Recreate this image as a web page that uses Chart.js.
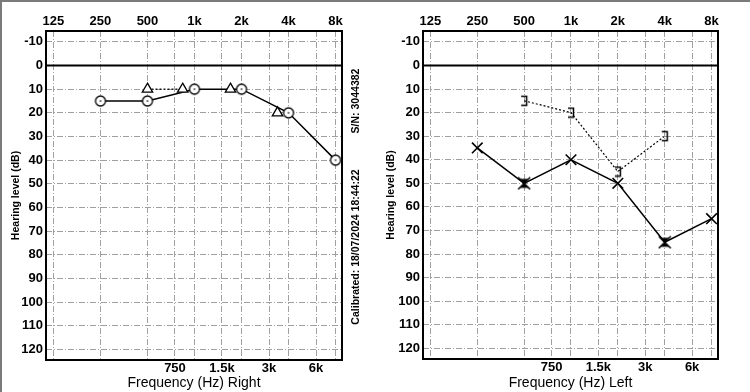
<!DOCTYPE html>
<html>
<head>
<meta charset="utf-8">
<script src="https://cdn.jsdelivr.net/npm/chart.js@4.4.1/dist/chart.umd.min.js"></script>
<style>
html, body { margin: 0; padding: 0; background: #fff; }
#wrap { position: relative; width: 750px; height: 392px; overflow: hidden; }
#kanan, #kiri { position: absolute; top: 0; }
#kanan { left: 0; }
#kiri { left: 375px; }
#bingkai { position: absolute; left: 0; top: 0; width: 750px; height: 392px; box-sizing: border-box;
  border-left: 2px solid #7a7a7a; border-top: 2px solid #7a7a7a; pointer-events: none; }
</style>
</head>
<body>
<div id="wrap">
  <canvas id="kanan" width="375" height="392"></canvas>
  <canvas id="kiri" width="375" height="392"></canvas>
  <div id="bingkai"></div>
</div>
<script>
var frekuensi = [125, 250, 500, 750, 1000, 1500, 2000, 3000, 4000, 6000, 8000];
var labelAtas = ['125', '250', '500', '', '1k', '', '2k', '', '4k', '', '8k'];
var labelBawah = ['', '', '', '750', '', '1.5k', '', '3k', '', '6k', ''];
var tickDb = [-10, 0, 10, 20, 30, 40, 50, 60, 70, 80, 90, 100, 110, 120];

// telinga kanan
var kananUdaraHz = [250, 500, 1000, 2000, 4000, 8000];
var kananUdaraDb = [15, 15, 10, 10, 20, 40];
var kananMaskHz = [500, 840, 1700, 3400];
var kananMaskDb = [10, 10, 10, 20];

// telinga kiri
var kiriUdaraHz = [250, 500, 1000, 2000, 4000, 8000];
var kiriUdaraDb = [35, 50, 40, 50, 75, 65];
var kiriMaskHz = [500, 4000];
var kiriTulangHz = [500, 1000, 2000, 4000];
var kiriTulangDb = [15, 20, 45, 30];

var FONT = '"Liberation Sans", Arial, Helvetica, sans-serif';

function pasang(hz, db) {
    return hz.map(function (h, i) { return { x: h, y: db[i] }; });
}

function kanvas(w, h, gambar) {
    var c = document.createElement('canvas');
    c.width = w; c.height = h;
    gambar(c.getContext('2d'));
    return c;
}

// marker lingkaran
var tandaO = kanvas(14, 14, function (g) {
    g.fillStyle = '#fff'; g.strokeStyle = '#000'; g.lineWidth = 1.3;
    g.beginPath(); g.arc(7, 7, 5, 0, Math.PI * 2); g.fill(); g.stroke();
    g.fillStyle = '#000';
    g.fillRect(6.5, 6, 1, 2);
});

// marker jam pasir (X bertopeng)
var tandaJam = kanvas(14, 14, function (g) {
    g.fillStyle = '#000'; g.strokeStyle = '#000'; g.lineWidth = 1.5;
    g.beginPath(); g.moveTo(2, 2.5); g.lineTo(12, 2.5); g.lineTo(7, 7); g.closePath(); g.fill();
    g.beginPath(); g.moveTo(2, 11.5); g.lineTo(12, 11.5); g.lineTo(7, 7); g.closePath(); g.fill();
    g.beginPath(); g.moveTo(1, 1); g.lineTo(13, 13); g.moveTo(13, 1); g.lineTo(1, 13); g.stroke();
});

// marker kurung ]
var tandaKurung = kanvas(12, 12, function (g) {
    g.strokeStyle = '#000'; g.lineWidth = 1.5;
    g.beginPath(); g.moveTo(3, 1.5); g.lineTo(8.5, 1.5); g.lineTo(8.5, 10.5); g.lineTo(3, 10.5); g.stroke();
});

var kotakPlugin = {
    id: 'kotak',
    beforeDatasetsDraw: function (chart) {
        var a = chart.chartArea, c = chart.ctx;
        var y0 = chart.scales.y.getPixelForValue(0);
        c.save();
        c.strokeStyle = '#000';
        c.lineWidth = 2;
        c.beginPath(); c.moveTo(a.left, y0); c.lineTo(a.right, y0); c.stroke();
        c.strokeRect(a.left, a.top, a.right - a.left, a.bottom - a.top);
        c.restore();
    }
};

function buatChart(id, judul, datasets, lebarY, kananPad, tinggiBawah, plugins) {
    return new Chart(document.getElementById(id).getContext('2d'), {
        type: 'line',
        data: { datasets: datasets },
        plugins: [kotakPlugin].concat(plugins || []),
        options: {
            responsive: false,
            animation: false,
            devicePixelRatio: 1,
            events: [],
            layout: { padding: { left: 0, right: kananPad, top: 0, bottom: 0 } },
            plugins: { legend: { display: false }, tooltip: { enabled: false } },
            scales: {
                x: {
                    type: 'logarithmic', position: 'bottom', min: 112, max: 8800,
                    afterBuildTicks: function (s) { s.ticks = frekuensi.map(function (f) { return { value: f }; }); },
                    afterFit: function (s) { s.height = tinggiBawah; },
                    ticks: {
                        autoSkip: false, maxRotation: 0, padding: 1, color: '#000',
                        font: { family: FONT, size: 13, weight: 'bold' },
                        callback: function (v, i) { return labelBawah[i]; }
                    },
                    grid: { color: '#a0a0a0', lineWidth: 1, drawTicks: false },
                    border: { display: false, dash: [6, 2, 1, 2] },
                    title: { display: true, text: judul, color: '#000', font: { family: FONT, size: 14 }, padding: { top: 0, bottom: 0 } }
                },
                x2: {
                    type: 'logarithmic', position: 'top', min: 112, max: 8800,
                    afterBuildTicks: function (s) { s.ticks = frekuensi.map(function (f) { return { value: f }; }); },
                    afterFit: function (s) { s.height = 31; },
                    ticks: {
                        autoSkip: false, maxRotation: 0, padding: 2, color: '#000',
                        font: { family: FONT, size: 13, weight: 'bold' },
                        callback: function (v, i) { return labelAtas[i]; }
                    },
                    grid: { display: false, drawTicks: false },
                    border: { display: false }
                },
                y: {
                    type: 'linear', reverse: true, min: -14.6, max: 124.5,
                    afterBuildTicks: function (s) { s.ticks = tickDb.map(function (d) { return { value: d }; }); },
                    afterFit: function (s) { s.width = lebarY; },
                    ticks: { padding: 3, color: '#000', font: { family: FONT, size: 13, weight: 'bold' } },
                    grid: { color: '#a0a0a0', lineWidth: 1, drawTicks: false },
                    border: { display: false, dash: [6, 2, 1, 2] },
                    title: { display: true, text: 'Hearing level (dB)', color: '#000', font: { family: FONT, size: 10.5, weight: 'bold' }, padding: { top: 10, bottom: 0 } }
                }
            }
        }
    });
}

var teksSamping = {
    id: 'teksSamping',
    afterDraw: function (chart) {
        var c = chart.ctx;
        c.save();
        c.fillStyle = '#000';
        c.font = 'bold 10.5px ' + FONT;
        c.textAlign = 'center';
        c.textBaseline = 'middle';
        c.translate(356, 101); c.rotate(-Math.PI / 2);
        c.fillText('S/N: 3044382', 0, 0);
        c.restore();
        c.save();
        c.fillStyle = '#000';
        c.font = 'bold 10.5px ' + FONT;
        c.textAlign = 'center';
        c.textBaseline = 'middle';
        c.translate(356, 247); c.rotate(-Math.PI / 2);
        c.fillText('Calibrated: 18/07/2024 18:44:22', 0, 0);
        c.restore();
    }
};

buatChart('kanan', 'Frequency (Hz) Right', [
    {
        label: 'Air',
        data: pasang(kananUdaraHz, kananUdaraDb),
        borderColor: '#000', borderWidth: 1.5,
        pointStyle: tandaO, pointRadius: 6,
        order: 2
    },
    {
        label: 'Masked',
        data: pasang(kananMaskHz, kananMaskDb),
        borderColor: '#000', borderWidth: 1.3, borderDash: [2, 2],
        segment: { borderColor: function (s) { return s.p0DataIndex === 0 ? '#000' : 'rgba(0,0,0,0)'; } },
        pointStyle: 'triangle', pointRadius: 6,
        pointBackgroundColor: '#fff', pointBorderColor: '#000', pointBorderWidth: 1.3,
        order: 1
    }
], 46, 33, 32, [teksSamping]);

buatChart('kiri', 'Frequency (Hz) Left', [
    {
        label: 'Air',
        data: pasang(kiriUdaraHz, kiriUdaraDb),
        borderColor: '#000', borderWidth: 1.5,
        pointStyle: function (c) {
            return kiriMaskHz.indexOf(kiriUdaraHz[c.dataIndex]) >= 0 ? tandaJam : 'crossRot';
        },
        pointRadius: 7.5, pointBorderColor: '#000', pointBorderWidth: 1.6,
        order: 1
    },
    {
        label: 'Bone',
        data: pasang(kiriTulangHz, kiriTulangDb),
        borderColor: '#000', borderWidth: 1.2, borderDash: [2, 2],
        pointStyle: tandaKurung, pointRadius: 6,
        order: 2
    }
], 48, 32, 33);
</script>
</body>
</html>
